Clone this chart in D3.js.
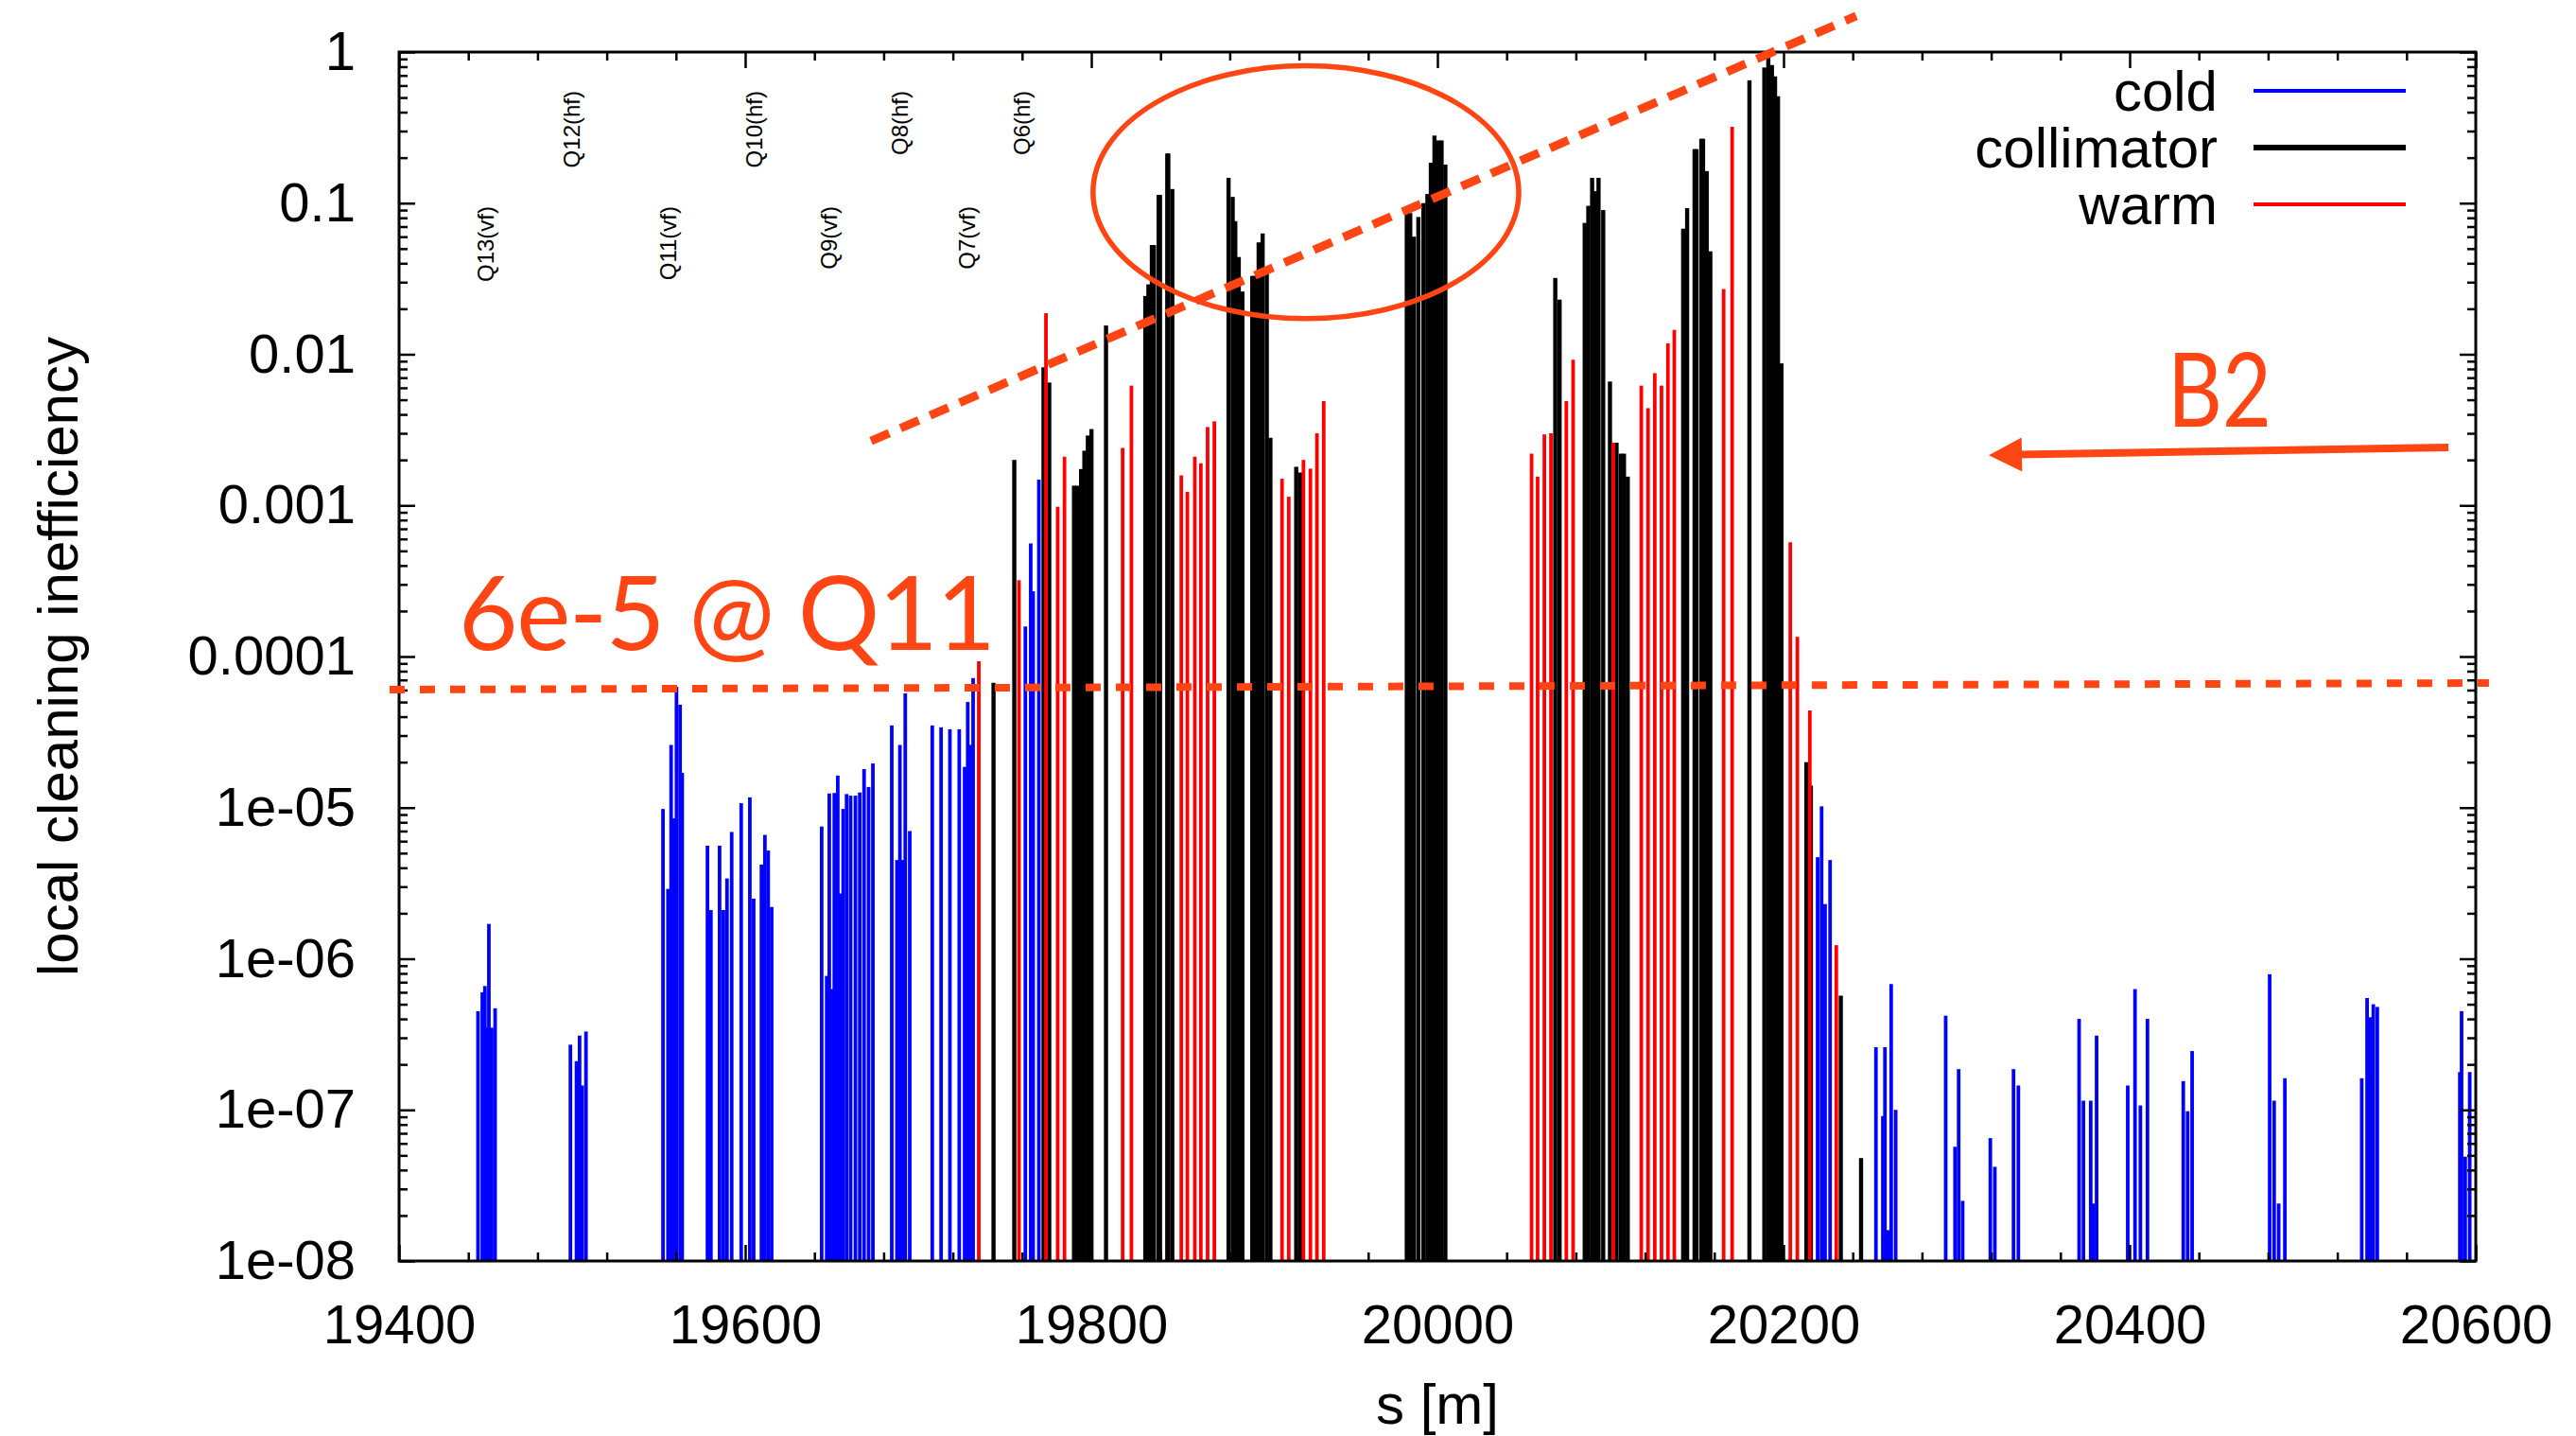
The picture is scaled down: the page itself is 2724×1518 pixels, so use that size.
<!DOCTYPE html>
<html>
<head>
<meta charset="utf-8">
<script src="https://cdn.jsdelivr.net/npm/d3@7"></script>
<style>
  html, body { margin: 0; padding: 0; background: #fff; }
  svg { display: block; }
</style>
</head>
<body>
<script>
// ---------------- DATA ----------------
const coldS = [19445.6,19448.1,19449.6,19450.8,19451.9,19453.5,19455.5,
  19499.0,19502.5,19504.3,19505.8,19508.0,
  19552.5,19555.4,19557.2,19558.7,19560.3,19562.4,19563.6,
  19578.2,19580.2,19585.2,19587.4,19589.5,19592.2,19597.7,19602.7,19604.9,19609.4,19611.4,19613.3,19615.3,
  19644.2,19647.1,19648.6,19650.0,19651.5,19653.5,19655.1,19656.6,19658.6,19660.9,19663.7,19666.2,19668.7,19671.3,19673.8,
  19684.7,19687.7,19689.4,19691.0,19692.5,19695.1,
  19708.1,19713.2,19718.3,19723.7,19726.8,19728.6,19730.0,19731.7,
  19761.9,19765.0,19766.4,19769.7,
  20219.7,20222.0,20224.0,20226.9,
  20253.4,20257.4,20258.6,20260.4,20262.2,20264.8,
  20293.7,20299.1,20301.2,20303.5,
  20319.5,20322.1,20332.9,20335.7,
  20370.8,20373.3,20377.5,20379.1,20380.9,
  20398.9,20403.1,20406.2,20410.3,
  20431.0,20433.5,20436.1,
  20480.9,20483.5,20486.1,20489.7,
  20534.1,20537.2,20539.0,20540.8,20543.1,
  20590.8,20591.8,20593.9,20596.5];
const coldV = [4.5e-7,6.0e-7,6.6e-7,3.5e-7,1.7e-6,3.5e-7,4.7e-7,
  2.7e-7,2.1e-7,3.1e-7,1.45e-7,3.3e-7,
  9.8e-6,2.9e-6,2.6e-5,8.5e-6,6.3e-5,4.8e-5,1.7e-5,
  5.6e-6,2.1e-6,5.6e-6,2.1e-6,3.4e-6,6.9e-6,1.07e-5,1.17e-5,2.5e-6,4.2e-6,6.6e-6,5.2e-6,2.2e-6,
  7.5e-6,7.7e-7,1.24e-5,6.3e-7,1.25e-5,1.63e-5,2.7e-6,9.8e-6,1.23e-5,1.2e-5,1.2e-5,1.26e-5,1.8e-5,1.37e-5,1.96e-5,
  3.5e-5,4.5e-6,2.6e-5,4.5e-6,5.7e-5,7.0e-6,
  3.5e-5,3.4e-5,3.3e-5,3.3e-5,1.86e-5,5.0e-5,2.6e-5,7.2e-5,
  1.58e-4,5.6e-4,2.7e-4,1.48e-3,
  4.7e-6,1.02e-5,2.3e-6,4.5e-6,
  2.6e-7,9.1e-8,2.6e-7,1.6e-8,6.8e-7,1.0e-7,
  4.2e-7,5.7e-8,1.86e-7,2.5e-8,
  6.5e-8,4.2e-8,1.86e-7,1.45e-7,
  4.0e-7,1.15e-7,1.15e-7,2.4e-8,3.1e-7,
  1.45e-7,6.3e-7,1.07e-7,4.0e-7,
  1.55e-7,9.8e-8,2.45e-7,
  7.9e-7,1.15e-7,2.4e-8,1.62e-7,
  1.62e-7,5.5e-7,4.1e-7,5.0e-7,4.8e-7,
  1.78e-7,4.5e-7,4.9e-8,1.78e-7];

const collS = [19743.5,19755.5,19772.4,19775.7,
  19790.0,19791.9,19794.1,19796.0,19798.0,19800.1,
  19808.5,
  19831.2,19833.0,19835.0,19836.2,19838.9,19839.7,19843.9,19844.5,19846.8,
  19879.3,19881.7,19883.2,19885.2,19887.3,
  19893.0,19894.5,19896.7,19899.0,19901.4,19903.5,
  19918.4,19920.7,
  19982.3,19984.3,19986.4,19989.0,19991.9,19994.2,19996.2,19998.3,20000.5,20002.4,20004.6,
  20068.1,20070.6,
  20085.1,20087.2,20089.4,20091.1,20093.1,20095.8,
  20099.7,20103.5,20106.0,20107.8,20110.0,
  20142.0,20144.3,20148.6,20149.7,20152.5,20153.5,20155.6,20157.7,
  20180.3,
  20188.9,20191.2,20193.3,20195.1,20196.8,20198.8,
  20213.2,20215.8,20233.1,20244.8];
const collV = [6.7e-5,2.0e-3,8.2e-3,6.5e-3,
  1.35e-3,1.35e-3,1.74e-3,2.3e-3,2.9e-3,3.2e-3,
  1.55e-2,
  0.0243,0.029,0.0528,0.0528,0.1135,0.1135,0.213,0.213,0.124,
  0.147,0.11,0.076,0.044,0.026,
  0.033,0.033,0.055,0.063,0.036,2.8e-3,
  1.8e-3,1.65e-3,
  0.086,0.086,0.06,0.081,0.1,0.115,0.185,0.28,0.26,0.26,0.18,
  0.032,0.023,
  0.074,0.096,0.147,0.12,0.147,0.09,
  6.6e-3,2.6e-3,2.2e-3,2.2e-3,1.55e-3,
  0.0678,0.0927,0.2277,0.2277,0.2667,0.2667,0.163,0.048,
  0.65,
  0.79,0.93,0.82,0.69,0.51,8.7e-3,
  2.0e-5,1.4e-5,5.7e-7,4.8e-8];

const warmS = [19735.0,19758.2,19773.8,19780.6,19784.5,19818.1,19823.2,
  19852.0,19855.5,19859.8,19863.3,19867.2,19871.1,
  19910.2,19914.1,19922.6,19926.6,19930.4,19934.3,
  20054.4,20057.9,20061.8,20065.6,20074.5,20078.4,
  20101.6,
  20117.8,20121.7,20125.6,20129.5,20133.2,20136.9,
  20165.4,20170.3,
  20203.9,20208.0,20215.2,20230.5];
const warmV = [9.3e-5,3.2e-4,1.87e-2,9.8e-4,2.1e-3,2.4e-3,6.2e-3,
  1.58e-3,1.23e-3,2.1e-3,1.9e-3,3.3e-3,3.6e-3,
  1.5e-3,1.14e-3,2.0e-3,1.75e-3,3.0e-3,4.9e-3,
  2.2e-3,1.55e-3,2.95e-3,3.0e-3,4.9e-3,9.2e-3,
  2.6e-3,
  6.2e-3,4.4e-3,7.5e-3,6.2e-3,0.0118,0.0145,
  0.027,0.32,
  5.7e-4,1.35e-4,4.4e-5,1.23e-6];

const seriesNames = ["cold", "collimator", "warm"];

const yTickValues = [1, 0.1, 0.01, 0.001, 0.0001, 1e-5, 1e-6, 1e-7, 1e-8];
const yTickLabels = ["1", "0.1", "0.01", "0.001", "0.0001", "1e-05", "1e-06", "1e-07", "1e-08"];
const xTickValues = [19400, 19600, 19800, 20000, 20200, 20400, 20600];
const xTickLabels = ["19400", "19600", "19800", "20000", "20200", "20400", "20600"];

const qNames = ["Q13(vf)", "Q12(hf)", "Q11(vf)", "Q10(hf)", "Q9(vf)", "Q8(hf)", "Q7(vf)", "Q6(hf)"];
const qS = [19450, 19500, 19555.7, 19605, 19648.6, 19689.6, 19728, 19760];

const limitValue = [6.04e-5, 6.68e-5];        // dashed level "6e-5 @ Q11" (left, right)
const limitS = [19394.5, 20607.6];
const trendS = [19672.7, 20242];               // dashed trend line
const trendV = [2.67e-3, 1.73];
const ellS = [19801, 20047];                   // ellipse bounding box
const ellV = [0.0172, 0.81];
const arrowS = [20584.2, 20318.6];             // B2 arrow (from, to)
const arrowV = [2.42e-3, 2.15e-3];

// ---------------- LAYOUT / STYLE ----------------
const W = 2724, H = 1518;
const L = 422, R = 2618, T = 55, B = 1333;
const FONT = "'Liberation Sans', Arial, Helvetica, sans-serif";
const ANN = "#ff4514";
const colors = { cold: "#0000ff", collimator: "#000000", warm: "#ff0000" };

const svg = d3.select("body").append("svg")
  .attr("width", W).attr("height", H)
  .style("font-family", FONT);
svg.append("rect").attr("width", W).attr("height", H).attr("fill", "#fff");

const x = d3.scaleLinear().domain([19400, 20600]).range([L, R]);
const y = d3.scaleLog().domain([1e-8, 1]).range([B, T]);

svg.append("clipPath").attr("id", "plotclip")
  .append("rect").attr("x", L).attr("y", T).attr("width", R - L).attr("height", B - T);

const bars = svg.append("g").attr("clip-path", "url(#plotclip)");
function drawBars(S, V, color, w) {
  bars.append("g").selectAll("rect")
    .data(d3.zip(S, V))
    .join("rect")
    .attr("x", d => x(d[0]) - w / 2)
    .attr("width", w)
    .attr("y", d => y(d[1]))
    .attr("height", d => y(1e-8) - y(d[1]))
    .attr("fill", color);
}
drawBars(coldS, coldV, colors.cold, 3.8);
drawBars(collS, collV, colors.collimator, 4.4);
drawBars(warmS, warmV, colors.warm, 3.8);

// ---------------- AXES ----------------
const yMinor = [];
for (let k = -8; k < 0; k++) for (let m = 2; m <= 9; m++) yMinor.push(m * Math.pow(10, k));
const xMinor = d3.range(19400, 20601, 40).filter(v => (v - 19400) % 200 !== 0);

function styleAxis(g) {
  g.select(".domain").remove();
  g.selectAll(".tick line").attr("stroke", "#000").attr("stroke-width", 2.5);
  g.selectAll(".tick text").attr("fill", "#000").style("font-size", "58px").style("font-family", FONT);
}

// left
svg.append("g").attr("transform", `translate(${L},0)`)
  .call(d3.axisLeft(y).tickValues(yTickValues).tickSize(-17).tickPadding(46)
    .tickFormat((d, i) => yTickLabels[i])).call(styleAxis);
svg.append("g").attr("transform", `translate(${L},0)`)
  .call(d3.axisLeft(y).tickValues(yMinor).tickSize(-9).tickFormat("")).call(styleAxis);
// right
svg.append("g").attr("transform", `translate(${R},0)`)
  .call(d3.axisRight(y).tickValues(yTickValues).tickSize(-17).tickFormat("")).call(styleAxis);
svg.append("g").attr("transform", `translate(${R},0)`)
  .call(d3.axisRight(y).tickValues(yMinor).tickSize(-9).tickFormat("")).call(styleAxis);
// bottom
svg.append("g").attr("transform", `translate(0,${B})`)
  .call(d3.axisBottom(x).tickValues(xTickValues).tickSize(-17).tickPadding(46)
    .tickFormat((d, i) => xTickLabels[i])).call(styleAxis);
svg.append("g").attr("transform", `translate(0,${B})`)
  .call(d3.axisBottom(x).tickValues(xMinor).tickSize(-9).tickFormat("")).call(styleAxis);
// top
svg.append("g").attr("transform", `translate(0,${T})`)
  .call(d3.axisTop(x).tickValues(xTickValues).tickSize(-17).tickFormat("")).call(styleAxis);
svg.append("g").attr("transform", `translate(0,${T})`)
  .call(d3.axisTop(x).tickValues(xMinor).tickSize(-9).tickFormat("")).call(styleAxis);

// frame
svg.append("rect").attr("x", L).attr("y", T).attr("width", R - L).attr("height", B - T)
  .attr("fill", "none").attr("stroke", "#000").attr("stroke-width", 3);

// axis titles
svg.append("text").attr("x", (L + R) / 2).attr("y", 1505)
  .attr("text-anchor", "middle").style("font-size", "60px").text("s [m]");
svg.append("text").attr("transform", `translate(82,${(T + B) / 2}) rotate(-90)`)
  .attr("text-anchor", "middle").style("font-size", "60px").text("local cleaning inefficiency");

// Q labels
svg.append("g").selectAll("text").data(qNames).join("text")
  .attr("transform", (d, i) => `translate(${x(qS[i])},${d.includes("vf") ? 218 : 96}) rotate(-90)`)
  .attr("text-anchor", "end").attr("dy", "0.35em")
  .style("font-size", "24px").text(d => d);

// legend
const leg = svg.append("g");
seriesNames.forEach((name, i) => {
  const by = 117 + i * 60;
  leg.append("text").attr("x", 2345).attr("y", by).attr("text-anchor", "end")
    .style("font-size", "60px").text(name);
  leg.append("line").attr("x1", 2383).attr("x2", 2544).attr("y1", by - 21).attr("y2", by - 21)
    .attr("stroke", colors[name]).attr("stroke-width", name === "collimator" ? 6 : 4);
});

// ---------------- ANNOTATIONS ----------------
const ann = svg.append("g");
ann.append("line")
  .attr("x1", x(limitS[0])).attr("y1", y(limitValue[0]))
  .attr("x2", x(limitS[1])).attr("y2", y(limitValue[1]))
  .attr("stroke", ANN).attr("stroke-width", 8).attr("stroke-dasharray", "16,16");
ann.append("line")
  .attr("x1", x(trendS[0])).attr("y1", y(trendV[0]))
  .attr("x2", x(trendS[1])).attr("y2", y(trendV[1]))
  .attr("stroke", ANN).attr("stroke-width", 9).attr("stroke-dasharray", "21,13");
ann.append("ellipse")
  .attr("cx", (x(ellS[0]) + x(ellS[1])) / 2).attr("cy", (y(ellV[0]) + y(ellV[1])) / 2)
  .attr("rx", (x(ellS[1]) - x(ellS[0])) / 2).attr("ry", (y(ellV[0]) - y(ellV[1])) / 2)
  .attr("fill", "none").attr("stroke", ANN).attr("stroke-width", 5.5);

ann.append("text").attr("x", x(19434.4)).attr("y", y(1.107e-4))
  .attr("fill", ANN).style("font-family", "Lato, 'Open Sans', sans-serif").style("font-size", "108px")
  .attr("textLength", 568).attr("lengthAdjust", "spacing")
  .text("6e-5 @ Q11");
ann.append("text").attr("x", x(20421.9)).attr("y", y(3.32e-3))
  .attr("fill", ANN).style("font-family", "Lato, 'Open Sans', sans-serif").style("font-size", "108px")
  .attr("textLength", 110).attr("lengthAdjust", "spacingAndGlyphs")
  .text("B2");

// arrow
const ax0 = x(arrowS[0]), ay0 = y(arrowV[0]), ax1 = x(arrowS[1]), ay1 = y(arrowV[1]);
const len = Math.hypot(ax1 - ax0, ay1 - ay0);
const ux = (ax1 - ax0) / len, uy = (ay1 - ay0) / len;
const headL = 35, headW = 18;
const bx = ax1 - ux * headL, by = ay1 - uy * headL;
ann.append("line").attr("x1", ax0).attr("y1", ay0).attr("x2", bx + ux * 2).attr("y2", by + uy * 2)
  .attr("stroke", ANN).attr("stroke-width", 8);
ann.append("path")
  .attr("d", `M${ax1},${ay1} L${bx - uy * headW},${by + ux * headW} L${bx + uy * headW},${by - ux * headW} Z`)
  .attr("fill", ANN);
</script>
</body>
</html>
